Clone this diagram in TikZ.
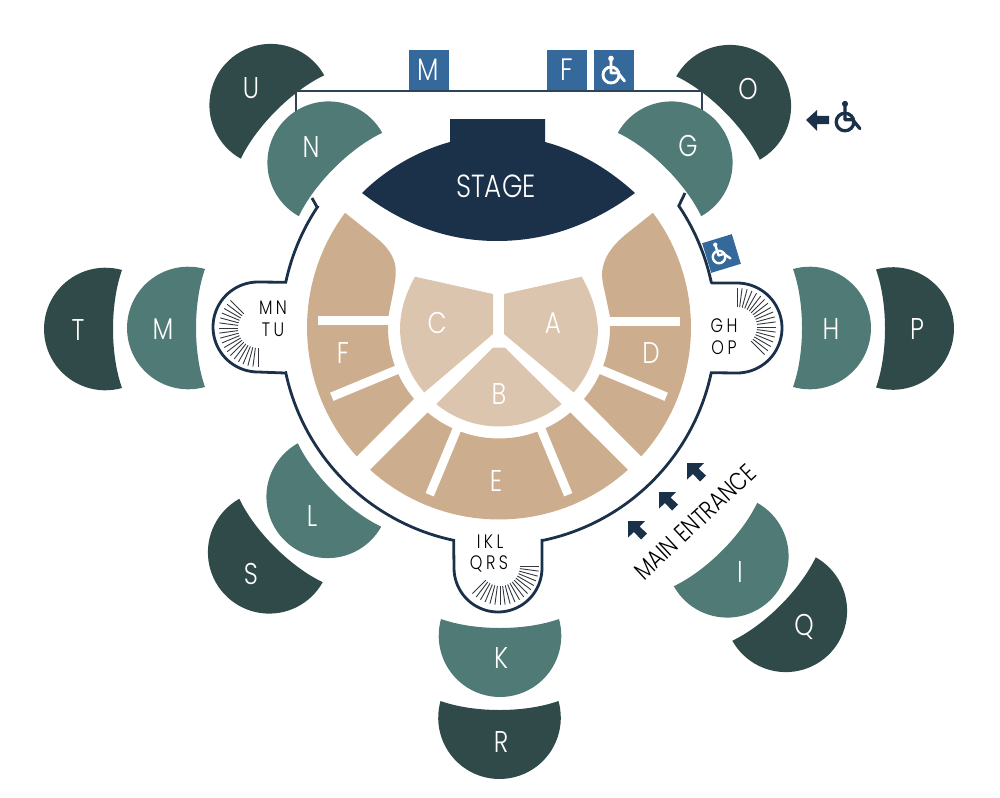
\documentclass[tikz,border=0pt]{standalone}
\usepackage{fontspec}
\setmainfont{Poppins Light}[FakeStretch=0.82]
\definecolor{navy}{HTML}{1B3049}
\definecolor{framegray}{HTML}{2F4358}
\definecolor{seatblue}{HTML}{35689B}
\definecolor{tealmid}{HTML}{4F7A75}
\definecolor{tealdark}{HTML}{304A49}
\definecolor{seattan}{HTML}{CCAE8F}
\definecolor{seatlight}{HTML}{DCC5AE}
\definecolor{tickgray}{HTML}{33383E}
\newcommand{\ringarc}[5]{plot[domain=#4:#5,samples=40]({#1+#3*cos(\x)},{#2+#3*sin(\x)})}
\newcommand{\ringto}[5]{-- plot[domain=#4:#5,samples=40]({#1+#3*cos(\x)},{#2+#3*sin(\x)})}
\tikzset{
  seatblock/.pic={
    \fill (-59,0) .. controls (-25,12) and (25,12) .. (59,0)
      -- plot[domain=-15.8:195.8,samples=50]({61.3*cos(\x)},{16.7+61.3*sin(\x)}) -- cycle;
  },
  chair/.pic={
    \draw[line cap=round,line join=round] (0,-16) -- (0,-2) -- (7,-2) -- (13.5,6);
    \draw (0,0) circle (8pt);
    \fill (0,-16.5) circle (2.8pt);
  },
  entryarrow/.pic={
    \fill (0,0) -- (17,0) -- (11.5,5.5) -- (19,12.5) -- (13,18.5) -- (6,11) -- (0,16.5) -- cycle;
  },
  blocktext/.style={text=white,font=\fontsize{30}{30}\selectfont,inner sep=0pt},
  baytext/.style={text=black,font=\fontsize{19.5}{19.5}\selectfont\addfontfeature{LetterSpace=18},inner sep=0pt},
  signbox/.style={fill=seatblue,text=white,minimum size=40pt,inner sep=0pt,font=\fontsize{31}{31}\selectfont},
  aislebar/.style={white,line width=8.8pt},
  tick/.style={tickgray,line width=0.9pt}
}
\begin{document}
\begin{tikzpicture}[x=1pt,y=-1pt]
  \useasboundingbox (0,0) rectangle (1000,797);
  % stage back frame and signs
  \draw[framegray,line width=2.6pt] (296,112) -- (296,91) -- (702,91) -- (702,112);
  \node[signbox] (signM) at (428.5,70) {M};
  \node[signbox] (signF) at (567,70) {F};
  \node[signbox] (signChair) at (614,70) {};
  \pic[white,line width=2.9pt] at (611,75) {chair};
  % hall wall with the three bays
  \draw[navy,line width=2.8pt,line join=miter]
    (312,198) -- (317,207) \ringto{498.5}{327.5}{217.5}{213.6}{192}
    -- (258,282) \ringto{258}{327}{45}{270}{90} -- (285,373)
    \ringto{498.5}{327.5}{217.5}{168}{101.9}
    -- (454,568) \ringto{498}{568}{44}{180}{0} -- (542,539)
    \ringto{498.5}{327.5}{217.5}{78.4}{12}
    -- (737,373) \ringto{737}{328}{45}{90}{-90} -- (712,283)
    \ringto{498.5}{327.5}{217.5}{-12}{-34} -- (685,193);
  \node[signbox,minimum size=31pt,rotate=17] (signRamp) at (721.5,253.5) {};
  \pic[white,rotate=17,scale=0.78,line width=2.4pt] at (719,257) {chair};
  % stage
  \fill[navy] (362,193) .. controls (385,170) and (417,151) .. (450,142) -- (450,119) -- (545,119) -- (545,142)
    .. controls (579,151) and (610,170) .. (635,193) .. controls (590,226) and (545,241) .. (497,241)
    .. controls (450,241) and (405,226) .. (362,193) -- cycle;
  % seating
  \fill[seattan] \ringarc{499}{327.5}{192}{137.8}{216.7} -- (375,236.7)
    .. controls (387,246) and (394,256) .. (395.5,267) .. controls (396.5,278) and (394,286) .. (393,293)
    -- (388.3,316.7) \ringto{499}{327.5}{111}{185.4}{140} -- cycle;
  \fill[seattan] \ringarc{499}{327.5}{192}{42.2}{-36.7} -- (625,235)
    .. controls (612,246) and (603,258) .. (602,273) .. controls (602,282) and (604,288) .. (605,293)
    -- (610,316.7) \ringto{499}{327.5}{111}{-5.4}{40} -- cycle;
  \fill[seattan] \ringarc{499}{327.5}{192}{132.2}{47.8} \ringto{499}{327.5}{111}{50}{130} -- cycle;
  \foreach \a in {157.5,112.5,67.5,22.5}
    \draw[aislebar] (499,327.5) ++(\a:104) -- ++(\a:77);
  \draw[aislebar] (318,320.5) -- (395,320.5);
  \draw[aislebar] (603,321.5) -- (680,321.5);
  \fill[seatlight] (504,294) -- (581.7,276.7) .. controls (592,295) and (597,311) .. (598,330)
    \ringto{499}{327.5}{99}{1.5}{41} -- (504,334) -- cycle;
  \fill[seatlight] (493,294) -- (415,276.7) .. controls (405,295) and (400,311) .. (400,330)
    \ringto{499}{327.5}{99}{178.5}{139} -- (493,334) -- cycle;
  \fill[seatlight] (493,347.7) -- (505,347.7) -- (561.7,404) \ringto{499}{327.5}{99}{50.7}{129.3} -- cycle;
  % stair ticks in the bays
  \foreach \tx/\ty/\from in {258/328/90,737/327/-90,500/566/0}
    \foreach \k in {0,...,18} {
      \pgfmathsetmacro{\a}{\from+\k*7.5}
      \draw[tick] (\tx,\ty) ++(\a:20) -- ++(\a:19);
    }
  % outer seat blocks
  \foreach \px/\py/\rot/\col in {
    500/619/0/tealmid,499.5/701/0/tealdark,
    793/328/90/tealmid,876/328.5/90/tealdark,
    205/328/-90/tealmid,122/329/-90/tealdark,
    340.5/174.5/-135/tealmid,282.5/117/-135/tealdark,
    659.5/174.5/135/tealmid,718/118/135/tealdark,
    339.5/485/-45/tealmid,281/540.5/-45/tealdark,
    715.5/544.5/45/tealmid,774/599/45/tealdark}
    \pic[\col,rotate=\rot] at (\px,\py) {seatblock};
  \foreach \name/\px/\py in {U/251/88,N/311/147,O/748/89,G/688/146,T/78/330,M/163/329,H/831/329,P/917/329,
    K/501/658,R/501/742,I/740/572,Q/804/627,L/312/516,S/251/574}
    \node[blocktext] (lbl\name) at (\px,\py) {\name};
  \foreach \name/\px/\py in {A/553/323,C/437/323,B/499/394,D/651/353,F/343/353,E/496/481}
    \node[blocktext] (sec\name) at (\px,\py) {\name};
  \node[text=white,font=\fontsize{32}{32}\selectfont,inner sep=0pt] (stagelabel) at (496,186) {STAGE};
  % bay labels
  \node[baytext] (bayMN) at (273,308) {MN};
  \node[baytext] (bayTU) at (273,330) {TU};
  \node[baytext] (bayGH) at (724,326) {GH};
  \node[baytext] (bayOP) at (724,348) {OP};
  \node[baytext] (bayIKL) at (490,542) {IKL};
  \node[baytext] (bayQRS) at (489,564) {QRS};
  % entrance
  \node[text=black,font=\fontsize{25}{25}\selectfont,inner sep=0pt,rotate=43] (entrance) at (695,522) {MAIN ENTRANCE};
  \foreach \px/\py in {628/521,659/492,687/463}
    \pic[navy] at (\px,\py) {entryarrow};
  % accessible route
  \fill[navy] (806,120) -- (817,110) -- (817,116) -- (829,116) -- (829,124) -- (817,124) -- (817,131) -- cycle;
  \pic[navy,scale=1.1,line width=3.3pt] at (845,122) {chair};
\end{tikzpicture}
\end{document}
